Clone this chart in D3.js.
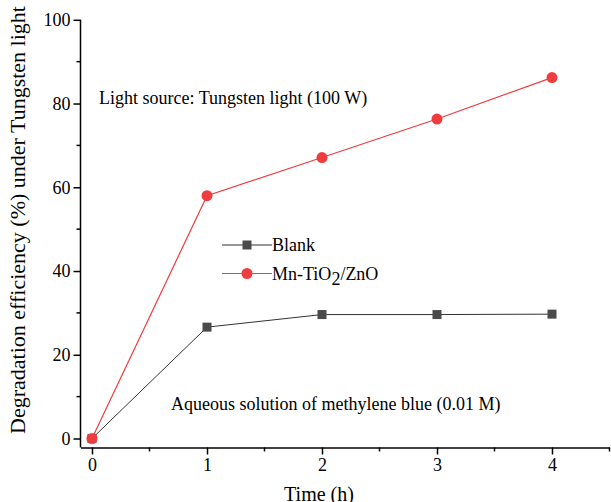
<!DOCTYPE html>
<html><head><meta charset="utf-8">
<script src="https://cdn.jsdelivr.net/npm/d3@7"></script>
<style>body{margin:0;background:#fff}svg{display:block;font-family:"Liberation Serif","Times New Roman",serif}</style>
</head><body>
<svg id="c" width="611" height="502"></svg>
<script>
const times = [0, 1, 2, 3, 4];
const blank = [0, 26.6, 29.6, 29.6, 29.7];
const mnTiO2 = [0, 58.0, 67.1, 76.3, 86.2];
const xTicks = [0, 1, 2, 3, 4];
const yTicks = [0, 20, 40, 60, 80, 100];
const xMinor = [0.5, 1.5, 2.5, 3.5, 4.5];
const yMinor = [10, 30, 50, 70, 90];

const svg = d3.select("#c");
const x = d3.scaleLinear().domain([-0.1, 4.5]).range([80.5, 609.5]);
const y = d3.scaleLinear().domain([0, 100]).range([438.5, 19.8]);
const yBottom = 447.5;

// axes
const xa = svg.append("g").attr("transform", `translate(0,${yBottom})`)
  .call(d3.axisBottom(x).tickValues(xTicks).tickFormat(d3.format("d")).tickSize(7).tickSizeOuter(0));
xa.append("g").selectAll("line").data(xMinor).join("line")
  .attr("x1", d => x(d)).attr("x2", d => x(d)).attr("y1", 0).attr("y2", 4).attr("stroke", "#000").attr("stroke-width", 1.5);
const ya = svg.append("g").attr("transform", `translate(80.5,0)`)
  .call(d3.axisLeft(y).tickValues(yTicks).tickFormat(d3.format("d")).tickSize(7).tickSizeOuter(0));
ya.append("g").selectAll("line").data(yMinor).join("line")
  .attr("y1", d => y(d)).attr("y2", d => y(d)).attr("x1", 0).attr("x2", -4).attr("stroke", "#000").attr("stroke-width", 1.5);
ya.select(".domain").attr("d", `M0,${y(100)}V${yBottom}`);
[xa, ya].forEach(g => {
  g.select(".domain").attr("stroke", "#000").attr("stroke-width", 1.5);
  g.selectAll(".tick line").attr("stroke", "#000").attr("stroke-width", 1.5);
  g.selectAll(".tick text").attr("font-family", "Liberation Serif").attr("font-size", 18).attr("fill", "#000");
});
xa.selectAll(".tick text").attr("dy", "0.71em").attr("y", 11);
ya.selectAll(".tick text").attr("x", -10);

// axis titles
svg.append("text").attr("x", 319).attr("y", 501).attr("text-anchor", "middle")
  .attr("font-size", 20).text("Time (h)");
svg.append("text").attr("transform", "translate(25,220) rotate(-90)").attr("text-anchor", "middle")
  .attr("font-size", 22).text("Degradation efficiency (%) under Tungsten light");

// annotations
svg.append("text").attr("x", 99).attr("y", 104).attr("font-size", 18).text("Light source: Tungsten light (100 W)");
svg.append("text").attr("x", 171).attr("y", 410).attr("font-size", 18).text("Aqueous solution of methylene blue (0.01 M)");

const line = d3.line().x((d, i) => x(times[i])).y(d => y(d));
const red = "#ef3c3f", gray = "#4a4a4a";

svg.append("path").datum(blank).attr("d", line).attr("fill", "none").attr("stroke", "#333").attr("stroke-width", 1);
svg.append("path").datum(mnTiO2).attr("d", line).attr("fill", "none").attr("stroke", red).attr("stroke-width", 1.2);

svg.append("g").selectAll("rect").data(blank).join("rect")
  .attr("x", (d, i) => x(times[i]) - 4.5).attr("y", d => y(d) - 4.5).attr("width", 9).attr("height", 9).attr("fill", gray);
svg.append("g").selectAll("circle").data(mnTiO2).join("circle")
  .attr("cx", (d, i) => x(times[i])).attr("cy", d => y(d)).attr("r", 5.5).attr("fill", red);

// legend
const lg = svg.append("g");
lg.append("line").attr("x1", 222).attr("x2", 272).attr("y1", 245).attr("y2", 245).attr("stroke", "#333").attr("stroke-width", 1);
lg.append("rect").attr("x", 247 - 4.5).attr("y", 245 - 4.5).attr("width", 9).attr("height", 9).attr("fill", gray);
lg.append("text").attr("x", 272).attr("y", 251).attr("font-size", 18).text("Blank");
lg.append("line").attr("x1", 222).attr("x2", 272).attr("y1", 273.5).attr("y2", 273.5).attr("stroke", red).attr("stroke-width", 1.2);
lg.append("circle").attr("cx", 247).attr("cy", 273.5).attr("r", 5.5).attr("fill", red);
const t2 = lg.append("text").attr("x", 272).attr("y", 279.5).attr("font-size", 18);
t2.append("tspan").text("Mn-TiO");
t2.append("tspan").attr("dy", 5).text("2");
t2.append("tspan").attr("dy", -5).text("/ZnO");
</script>
</body></html>
